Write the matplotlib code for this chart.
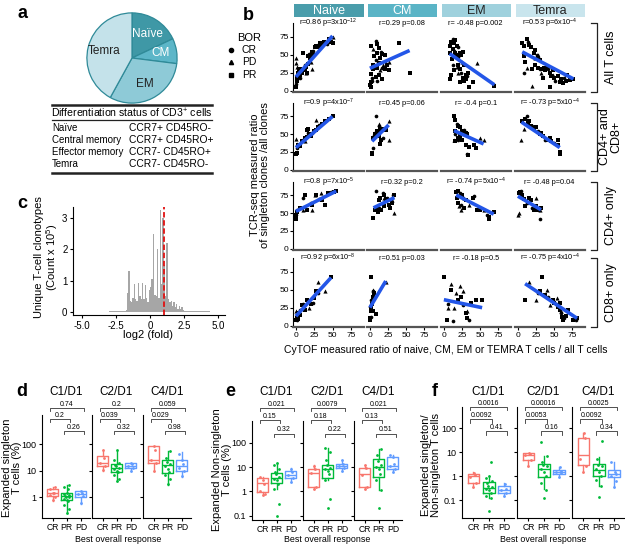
#!/usr/bin/env python3
"""Multi-panel figure: T-cell subsets, singleton clones and expanded clones by response."""

import matplotlib

matplotlib.use("Agg")
import matplotlib.pyplot as plt
import numpy as np
from matplotlib.lines import Line2D
from matplotlib.patches import Rectangle

plt.rcParams["font.family"] = ["Liberation Sans", "DejaVu Sans"]
plt.rcParams["mathtext.fontset"] = "custom"
plt.rcParams["mathtext.rm"] = "Liberation Sans"
plt.rcParams["mathtext.it"] = "Liberation Sans:italic"
plt.rcParams["axes.linewidth"] = 0.8

W, H = 625, 545

# ---------------- panel a ----------------
PIE_LABELS = ["Naïve", "CM", "EM", "Temra"]
PIE_SHARE = [18, 9, 31, 42]
PIE_COLORS = ["#3f98a6", "#5cb6c8", "#8ecad7", "#c4e2ea"]
PIE_TEXT = ["white", "white", "#222222", "#222222"]
TABLE_ROWS = ["Naïve", "Central memory", "Effector memory", "Temra"]
TABLE_MARKERS = ["CCR7+ CD45RO-", "CCR7+ CD45RO+", "CCR7- CD45RO+", "CCR7- CD45RO-"]

# ---------------- panel b ----------------
SUBSETS = ["Naive", "CM", "EM", "Temra"]
STRIP_COLORS = ["#4a9dab", "#5ab4c6", "#9fd1dd", "#c9e5ed"]
STRIP_TEXT = ["white", "white", "#222222", "#222222"]
ROW_LABELS = ["All T cells", "CD4+ and\nCD8+", "CD4+ only", "CD8+ only"]

ALL_NAIVE = [(0, 5, 's'), (0, 9, 'o'), (1, 13, 's'), (1, 16, 'o'), (2, 18, 's'), (2, 15, 's'), (3, 20, 'o'),
             (3, 25, 's'), (4, 28, 's'), (5, 17, 'o'), (5, 30, 's'), (6, 22, 's'), (7, 28, 'o'), (8, 25, 's'),
             (9, 29, 's'), (10, 52, 's'), (12, 30, 's'), (13, 35, 'o'), (14, 33, 's'), (15, 25, 's'),
             (16, 37, 's'), (17, 48, 's'), (18, 51, 'o'), (19, 45, 's'), (20, 50, 's'), (22, 53, 's'),
             (24, 55, 'o'), (25, 50, 's'), (26, 60, 's'), (28, 62, 's'), (30, 64, 'o'), (31, 60, 's'),
             (33, 66, 's'), (35, 63, 's'), (38, 67, 's'), (42, 65, 'o'), (45, 72, 's'), (48, 68, 's'),
             (50, 66, 's'), (0, 45, '^'), (0, 38, '^'), (1, 33, '^'), (3, 28, '^'), (14, 24, '^'),
             (20, 40, '^'), (22, 30, '^'), (50, 75, '^')]
ALL_CM = [(1, 5, 's'), (1, 12, 's'), (3, 17, 'o'), (2, 23, 's'), (5, 30, 's'), (1, 62, 's'), (8, 69, 'o'),
          (10, 65, 's'), (12, 59, 's'), (15, 53, 'o'), (17, 51, 's'), (10, 52, 's'), (21, 49, 's'),
          (8, 42, 'o'), (12, 39, 's'), (5, 35, 's'), (10, 32, 's'), (17, 31, 'o'), (21, 30, 's'),
          (24, 35, 's'), (26, 28, 's'), (3, 14, 'o'), (8, 19, 's'), (12, 21, 's'), (17, 16, 's'),
          (10, 14, 'o'), (0, 8, 's'), (14, 45, 's'), (40, 66, 's'), (55, 25, 's'), (6, 48, 's'),
          (18, 36, '^'), (22, 38, '^'), (26, 40, '^'), (4, 58, '^'), (14, 28, '^')]
ALL_EM = [(8, 62, 's'), (10, 68, 's'), (12, 72, 'o'), (14, 66, 's'), (16, 70, 's'), (18, 62, 's'),
          (20, 60, 'o'), (12, 58, 's'), (9, 52, 's'), (11, 44, 's'), (13, 36, 'o'), (8, 16, 's'),
          (10, 22, 's'), (14, 28, 's'), (16, 52, 's'), (18, 49, 's'), (20, 47, 'o'), (22, 52, 's'),
          (24, 50, 's'), (26, 53, 's'), (20, 35, 's'), (22, 30, 's'), (24, 25, 'o'), (26, 18, 's'),
          (28, 14, 's'), (30, 16, 's'), (30, 22, 's'), (32, 20, 'o'), (34, 24, 's'), (28, 35, 's'),
          (22, 12, 's'), (35, 5, 's'), (40, 12, 's'), (70, 7, 's'), (15, 55, '^'), (18, 33, '^'),
          (25, 40, '^'), (46, 38, '^'), (20, 24, '^')]
ALL_TEMRA = [(6, 66, 's'), (9, 62, 's'), (12, 72, 's'), (14, 68, 'o'), (16, 63, 's'), (18, 60, 's'),
             (8, 48, 's'), (10, 40, 's'), (8, 25, 'o'), (20, 30, 's'), (22, 52, 's'), (24, 56, 's'),
             (26, 50, 'o'), (28, 46, 's'), (30, 42, 's'), (24, 36, 's'), (28, 32, 's'), (30, 30, 'o'),
             (33, 30, 's'), (36, 32, 's'), (38, 28, 's'), (40, 33, 's'), (42, 30, 'o'), (44, 25, 's'),
             (46, 20, 's'), (48, 28, 's'), (50, 18, 's'), (52, 14, 'o'), (55, 20, 's'), (58, 12, 's'),
             (60, 16, 's'), (62, 10, 's'), (64, 18, 'o'), (66, 14, 's'), (68, 22, 's'), (72, 15, 's'),
             (77, 16, 's'), (45, 5, 's'), (35, 18, 's'), (24, 46, '^'), (28, 50, '^'), (12, 32, '^'),
             (20, 7, '^'), (32, 25, '^'), (48, 22, '^')]

BOTH_NAIVE = [(0, 22, 's'), (1, 23, 's'), (2, 30, 'o'), (3, 35, 's'), (5, 33, 's'), (8, 40, 's'),
              (10, 42, 'o'), (12, 44, 's'), (15, 46, 's'), (15, 56, 's'), (16, 52, 'o'), (17, 58, 's'),
              (18, 50, 's'), (20, 48, 's'), (22, 52, 'o'), (25, 54, 's'), (27, 56, 's'), (30, 60, 's'),
              (32, 63, 'o'), (35, 65, 's'), (40, 68, 's'), (45, 72, 's'), (50, 75, 's'), (0, 43, '^'),
              (2, 36, '^'), (27, 70, '^'), (12, 41, '^')]
BOTH_CM = [(3, 22, 's'), (3, 24, 's'), (4, 30, 'o'), (5, 45, 's'), (7, 50, 's'), (8, 75, 'o'), (10, 55, 's'),
           (11, 52, 's'), (12, 48, 's'), (13, 62, 'o'), (14, 58, 's'), (14, 36, 's'), (15, 42, 's'),
           (18, 44, 'o'), (20, 58, 's'), (22, 56, 's'), (6, 52, '^'), (26, 68, '^'), (26, 42, '^'),
           (12, 65, '^')]
BOTH_EM = [(14, 75, 's'), (16, 70, 's'), (18, 64, 'o'), (20, 62, 's'), (22, 60, 's'), (15, 55, 's'),
           (16, 50, 'o'), (20, 45, 's'), (22, 48, 's'), (25, 55, 's'), (28, 56, 'o'), (30, 52, 's'),
           (32, 50, 's'), (16, 40, 's'), (20, 42, 'o'), (25, 42, 's'), (30, 35, 's'), (35, 32, 's'),
           (32, 22, 'o'), (34, 20, 's'), (42, 35, 's'), (45, 30, 's'), (50, 45, '^'), (55, 42, '^'),
           (14, 42, '^')]
BOTH_TEMRA = [(6, 68, 's'), (10, 72, 's'), (12, 75, 'o'), (14, 66, 's'), (16, 68, 's'), (18, 62, 's'),
              (20, 62, 'o'), (22, 58, 's'), (25, 60, 's'), (28, 55, 'o'), (30, 50, 's'), (32, 52, 's'),
              (35, 48, 's'), (38, 42, 'o'), (40, 42, 's'), (44, 45, 's'), (46, 40, 's'), (50, 38, 'o'),
              (55, 42, 's'), (56, 35, 's'), (58, 25, 's'), (58, 22, 's'), (5, 42, '^'), (8, 58, '^'),
              (46, 42, '^')]

CD4_NAIVE = [(0, 42, 's'), (0, 48, 's'), (1, 55, 'o'), (2, 52, 's'), (5, 57, 's'), (10, 72, 'o'), (13, 75, 's'),
             (15, 55, 's'), (20, 65, 'o'), (22, 62, 's'), (28, 75, 's'), (32, 70, 'o'), (36, 68, 's'),
             (40, 61, 's'), (44, 78, 's'), (48, 80, 'o'), (52, 80, 's'), (55, 82, 's'), (0, 50, '^'),
             (10, 55, '^'), (22, 55, '^'), (26, 75, '^'), (34, 78, '^')]
CD4_CM = [(5, 43, 's'), (7, 55, 's'), (9, 82, 'o'), (10, 55, 's'), (11, 52, 's'), (12, 58, 'o'), (13, 68, 's'),
          (14, 72, 's'), (16, 55, 's'), (18, 78, 'o'), (19, 60, 's'), (20, 75, 's'), (22, 70, 's'),
          (24, 72, 'o'), (26, 62, 's'), (28, 58, 's'), (30, 65, 's'), (32, 76, 'o'), (34, 76, 's'),
          (10, 60, '^'), (20, 72, '^'), (30, 68, '^'), (34, 50, '^')]
CD4_EM = [(17, 80, 's'), (19, 82, 's'), (22, 78, 'o'), (18, 72, 's'), (25, 75, 's'), (20, 65, 's'),
          (24, 62, 'o'), (30, 68, 's'), (28, 58, 's'), (40, 72, 's'), (42, 74, 'o'), (46, 55, 's'),
          (50, 55, 's'), (60, 48, 'o'), (62, 45, 's'), (63, 42, 's'), (69, 52, 's'), (24, 55, '^'),
          (21, 60, '^'), (35, 62, '^'), (55, 55, '^'), (28, 72, '^')]
CD4_TEMRA = [(2, 78, 's'), (3, 80, 's'), (5, 82, 'o'), (6, 75, 's'), (8, 70, 's'), (10, 60, 's'), (12, 65, 'o'),
             (15, 72, 's'), (18, 68, 's'), (20, 58, 'o'), (22, 55, 's'), (25, 60, 's'), (28, 55, 's'),
             (30, 42, 'o'), (32, 58, 's'), (0, 48, '^'), (2, 50, '^'), (25, 72, '^'), (30, 55, '^')]

CD8_NAIVE = [(0, 8, 's'), (1, 10, 's'), (2, 8, 'o'), (3, 9, 's'), (4, 18, 's'), (5, 22, 'o'), (6, 15, 's'),
             (8, 28, 's'), (10, 30, 'o'), (12, 22, 's'), (15, 35, 's'), (20, 30, 's'), (24, 32, 'o'),
             (25, 38, 's'), (28, 48, 's'), (30, 45, 'o'), (48, 68, 's'), (0, 20, '^'), (2, 18, '^'),
             (18, 25, '^'), (30, 60, '^'), (40, 48, '^')]
CD8_CM = [(0, 8, 's'), (0, 10, 's'), (1, 12, 'o'), (1, 20, 's'), (2, 25, 's'), (2, 35, 'o'), (3, 30, 's'),
          (4, 40, 's'), (5, 48, 'o'), (6, 45, 's'), (8, 16, 's'), (2, 68, 's'), (5, 20, 's'), (0, 28, '^'),
          (4, 50, '^'), (22, 60, '^')]
CD8_EM = [(0, 68, 's'), (5, 8, 's'), (12, 6, 'o'), (20, 35, 's'), (24, 40, 's'), (26, 28, 'o'), (30, 18, 's'),
          (32, 10, 's'), (35, 8, 'o'), (38, 32, 's'), (44, 35, 's'), (53, 36, 's'), (10, 50, 's'),
          (6, 30, 'o'), (6, 25, '^'), (10, 58, '^'), (14, 25, '^'), (17, 45, '^'), (22, 55, '^'),
          (26, 48, '^'), (32, 20, '^')]
CD8_TEMRA = [(10, 36, 's'), (34, 68, 's'), (28, 45, 'o'), (31, 48, 's'), (38, 42, 's'), (42, 40, 'o'),
             (48, 36, 's'), (50, 32, 's'), (53, 30, 'o'), (55, 26, 's'), (58, 22, 's'), (60, 18, 'o'),
             (61, 12, 's'), (62, 8, 's'), (64, 10, 'o'), (66, 14, 's'), (70, 22, 's'), (76, 8, 's'),
             (80, 8, 'o'), (82, 10, 's'), (58, 32, 's'), (16, 60, '^'), (25, 35, '^'), (40, 50, '^'),
             (45, 28, '^'), (54, 38, '^'), (60, 20, '^')]

# fitted lines: (slope, intercept)
FIT_ALL = [(1.14, 19), (0.45, 31), (-0.70, 57), (-0.53, 57)]
FIT_BOTH = [(0.88, 31), (1.0, 37), (-0.46, 61.5), (-0.68, 70.5)]
FIT_CD4 = [(0.52, 52.5), (0.5, 55), (-0.52, 84.5), (-0.6, 74)]
FIT_CD8 = [(1.12, 13), (1.68, 25), (-0.21, 36), (-0.67, 65)]

STATS_ALL = [r"r=0.86 p=3x10$^{-12}$", "r=0.29 p=0.08", "r= -0.48 p=0.002", r"r=0.53 p=6x10$^{-4}$"]
STATS_BOTH = [r"r=0.9 p=4x10$^{-7}$", "r=0.45 p=0.06", "r= -0.4 p=0.1", r"r= -0.73 p=5x10$^{-4}$"]
STATS_CD4 = [r"r=0.8 p=7x10$^{-5}$", "r=0.32 p=0.2", r"r= -0.74 p=5x10$^{-4}$", "r= -0.48 p=0.04"]
STATS_CD8 = [r"r=0.92 p=6x10$^{-8}$", "r=0.51 p=0.03", "r= -0.18 p=0.5", r"r= -0.75 p=4x10$^{-4}$"]

# ---------------- panel c ----------------
HIST_START = -5.0
HIST_BIN = 0.1
HIST_COUNTS = [0.005, 0.005, 0.005, 0.005, 0.005, 0.005, 0.005, 0.005, 0.005, 0.005,
               0.005, 0.005, 0.005, 0.005, 0.005, 0.01, 0.01, 0.01, 0.01, 0.01,
               0.02, 0.02, 0.02, 0.02, 0.02, 0.02, 0.03, 0.02, 0.03, 0.03,
               0.03, 0.03, 0.05, 0.6, 1.3, 0.35, 0.3, 0.45, 0.9, 0.4,
               0.35, 0.92, 0.5, 0.4, 0.92, 0.4, 0.85, 0.45, 0.3, 0.7,
               0.8, 1.05, 2.5, 0.55, 0.5, 2.0, 0.45, 3.25, 0.9, 3.0,
               1.5, 0.5, 2.2, 0.4, 0.3, 0.35, 0.2, 0.3, 0.15, 0.25,
               0.1, 0.2, 0.1, 0.15, 0.05, 0.04, 0.03, 0.03, 0.03, 0.02,
               0.02, 0.02, 0.02, 0.02, 0.02, 0.02, 0.02, 0.02, 0.02, 0.02,
               0.02, 0.02, 0.02, 0.02, 0.01, 0.01, 0.01, 0.01, 0.01, 0.01]
FOLD_CUT = 1.0

# ---------------- panels d, e, f ----------------
TIMEPOINTS = ["C1/D1", "C2/D1", "C4/D1"]
RESPONSES = ["CR", "PR", "PD"]
RESP_COLORS = ["#F8766D", "#00BA38", "#619CFF"]

# box stats per timepoint, per response: (whislo, q1, median, q3, whishi)
SINGLE_BOX = [[(0.75, 1.1, 1.4, 2.0, 2.5), (0.25, 0.8, 1.1, 1.4, 3.0), (0.55, 1.05, 1.35, 1.7, 1.8)],
              [(10, 15, 20, 35, 60), (4, 9, 13, 18, 55), (10, 13, 15, 20, 20)],
              [(10, 20, 25, 85, 90), (3, 8, 16, 25, 55), (6, 10, 15, 25, 50)]]
SINGLE_PTS = [[[0.8, 1.0, 1.2, 1.4, 1.5, 2.0, 2.4],
               [0.25, 0.35, 0.5, 0.7, 0.8, 0.9, 1.0, 1.05, 1.1, 1.2, 1.3, 1.5, 2.0, 2.5, 3.0],
               [0.6, 1.1, 1.3, 1.5, 1.7]],
              [[11, 15, 20, 30, 60], [4, 5, 7, 9, 10, 12, 13, 15, 17, 20, 25, 60], [10, 13, 15, 18, 20]],
              [[10, 20, 25, 60, 85], [3.2, 5, 7, 9, 12, 15, 18, 22, 30, 55], [6.5, 10, 13, 18, 25, 45]]]
SINGLE_P = [["0.74", "0.2", "0.26"], ["0.2", "0.039", "0.32"], ["0.059", "0.029", "0.98"]]

NONSINGLE_BOX = [[(0.7, 0.9, 2.2, 3.5, 4.0), (1.2, 2.2, 3.5, 5.5, 15), (2.5, 3.5, 4.5, 7.0, 9.0)],
                 [(1.2, 1.5, 5.5, 8.0, 12), (3.0, 3.5, 8.0, 12, 60), (7, 9, 11, 14, 20)],
                 [(1.3, 1.5, 5.0, 9.0, 12), (1.1, 4.0, 10, 22, 55), (6, 8, 11, 25, 30)]]
NONSINGLE_PTS = [[[0.7, 0.8, 1.0, 2.0, 3.0, 3.8],
                  [0.1, 0.3, 1.2, 2.0, 2.8, 3.3, 4.0, 5.0, 6.0, 8.0, 12, 15],
                  [2.5, 3.5, 4.5, 6.0, 8.5]],
                 [[1.2, 1.5, 5.5, 8.0, 11], [0.2, 0.5, 3, 5, 7, 8, 9, 12, 20, 40, 60], [7, 9, 11, 13, 20]],
                 [[1.3, 1.5, 4.5, 9, 12], [0.2, 1.1, 3, 5, 8, 10, 12, 18, 30, 55], [6, 8, 11, 14, 25, 30]]]
NONSINGLE_P = [["0.021", "0.15", "0.32"], ["0.0079", "0.18", "0.22"], ["0.021", "0.13", "0.51"]]

RATIO_BOX = [[(0.35, 0.5, 1.0, 1.2, 1.4), (0.12, 0.2, 0.32, 0.55, 1.0), (0.15, 0.2, 0.27, 0.38, 0.5)],
             [(2.5, 4.5, 7.5, 9.0, 9.5), (0.3, 0.9, 2.0, 3.2, 7.0), (0.9, 1.2, 1.45, 1.7, 2.3)],
             [(1.5, 2.9, 7.5, 40, 60), (0.4, 1.0, 1.8, 3.2, 6.0), (0.35, 0.9, 1.2, 1.7, 4.0)]]
RATIO_PTS = [[[0.35, 0.5, 0.9, 1.1, 1.3],
              [0.035, 0.12, 0.15, 0.2, 0.25, 0.3, 0.35, 0.4, 0.5, 0.6, 0.8, 1.0, 3.8],
              [0.15, 0.2, 0.25, 0.3, 0.45]],
             [[2.5, 4.5, 7.5, 8.5, 9.0], [0.12, 0.27, 0.5, 1.0, 1.5, 2.0, 2.5, 3.0, 4.0, 7.0, 25],
              [0.9, 1.3, 1.45, 1.6, 2.3]],
             [[1.5, 2.5, 5.0, 40, 60], [0.14, 0.4, 0.7, 1.0, 1.5, 2.0, 2.5, 3.0, 5.0, 30],
              [0.35, 0.6, 1.0, 1.2, 1.5, 4.0]]]
RATIO_P = [["0.0016", "0.0092", "0.41"], ["0.00016", "0.0053", "0.16"], ["0.0025", "0.0092", "0.34"]]


fig = plt.figure(figsize=(W / 100, H / 100), dpi=100)


def px_axes(l, t, r, b):
    return fig.add_axes([l / W, 1 - b / H, (r - l) / W, (b - t) / H])


# overlay in pixel coordinates for free text and rules
ov = fig.add_axes([0, 0, 1, 1], zorder=10)
ov.set_xlim(0, W)
ov.set_ylim(H, 0)
ov.axis("off")

for lab, (x, y) in zip("abcdef", [(22, 14), (248, 15), (22, 203), (22, 391), (230, 391), (435, 391)]):
    ov.text(x, y, lab, fontsize=13, fontweight="bold", ha="center", va="center")

# ---- a: pie + table ----
pie_ax = px_axes(86, 12, 178, 104)
wedges, texts = pie_ax.pie(PIE_SHARE, labels=PIE_LABELS, colors=PIE_COLORS, startangle=90,
                           counterclock=False, labeldistance=0.64,
                           wedgeprops=dict(edgecolor="#2f8a98", linewidth=0.9),
                           textprops=dict(fontsize=8.5))
for t, c in zip(texts, PIE_TEXT):
    t.set_color(c)
    t.set_ha("center")
    t.set_va("center")
pie_ax.set_xlim(-1.02, 1.02)
pie_ax.set_ylim(-1.02, 1.02)
pie_ax.set_aspect("equal")

for y, lw in [(105, 1.8), (120, 0.9), (173, 1.8)]:
    ov.add_line(Line2D([52, 212], [y, y], color="#222222", lw=lw))
ov.text(132, 113, "Differentiation status of CD3$^{+}$ cells", fontsize=7.6, ha="center", va="center")
for i, (name, mark) in enumerate(zip(TABLE_ROWS, TABLE_MARKERS)):
    yy = 128 + i * 12
    ov.text(52, yy, name, fontsize=7, ha="left", va="center")
    ov.text(129, yy, mark, fontsize=7.4, ha="left", va="center")

# ---- b: scatter grid ----
cols_px = [(293, 364), (367, 437), (441, 511), (515, 585)]
rows_px = [(23, 92), (103, 171), (182, 250), (258, 327)]
grid_pts = [[ALL_NAIVE, ALL_CM, ALL_EM, ALL_TEMRA],
            [BOTH_NAIVE, BOTH_CM, BOTH_EM, BOTH_TEMRA],
            [CD4_NAIVE, CD4_CM, CD4_EM, CD4_TEMRA],
            [CD8_NAIVE, CD8_CM, CD8_EM, CD8_TEMRA]]
grid_fit = [FIT_ALL, FIT_BOTH, FIT_CD4, FIT_CD8]
grid_txt = [STATS_ALL, STATS_BOTH, STATS_CD4, STATS_CD8]

for j, (name, col, tc) in enumerate(zip(SUBSETS, STRIP_COLORS, STRIP_TEXT)):
    l, r = cols_px[j]
    ov.add_patch(Rectangle((l + 1, 4), r - l - 1, 13, facecolor=col, edgecolor="none"))
    ov.text((l + r) / 2 + 0.5, 10.5, name, fontsize=9, color=tc, ha="center", va="center")

for i in range(4):
    t, b = rows_px[i]
    for j in range(4):
        l, r = cols_px[j]
        ax = px_axes(l, t, r, b)
        pts = grid_pts[i][j]
        for m, s in [("o", 7), ("s", 6), ("^", 9)]:
            xs = [p[0] for p in pts if p[2] == m]
            ys = [p[1] for p in pts if p[2] == m]
            ax.scatter(xs, ys, marker=m, s=s, color="black", linewidths=0, zorder=2)
        slope, icpt = grid_fit[i][j]
        xr = np.array([min(p[0] for p in pts), max(p[0] for p in pts)])
        ax.plot(xr, icpt + slope * xr, color="#2356e8", lw=2.6, solid_capstyle="butt", zorder=3)
        ax.text(44, 93, grid_txt[i][j], fontsize=5.3, ha="center", va="center", clip_on=False)
        ax.set_xlim(-4, 93)
        ax.set_ylim(-2, 94)
        for side in ["top", "right"]:
            ax.spines[side].set_visible(False)
        ax.spines["bottom"].set_color("#555555")
        ax.spines["bottom"].set_linewidth(1.6)
        if j == 0:
            ax.set_yticks([0, 25, 50, 75])
            ax.tick_params(axis="y", labelsize=6, length=2, pad=1)
        else:
            ax.spines["left"].set_visible(False)
            ax.set_yticks([])
        if i == 3:
            ax.set_xticks([0, 25, 50, 75])
            ax.tick_params(axis="x", labelsize=6, length=2, pad=1.5)
        else:
            ax.set_xticks([])
    ov.add_line(Line2D([591, 597, 597, 591], [t, t, b, b], color="#222222", lw=0.9))
    ov.text(611, (t + b) / 2, ROW_LABELS[i], fontsize=9, rotation=90, ha="center", va="center",
            multialignment="center", linespacing=0.95)

ov.text(237, 38, "BOR", fontsize=8, ha="left", va="center")
for k, (m, lab) in enumerate([("o", "CR"), ("^", "PD"), ("s", "PR")]):
    yy = 50 + k * 12.3
    ov.plot([231], [yy], marker=m, color="black", markersize=3, linestyle="none")
    ov.text(242, yy, lab, fontsize=7.5, ha="left", va="center")

ov.text(260, 175, "TCR-seq measured ratio\nof singleton clones /all clones", fontsize=8, rotation=90,
        ha="center", va="center", multialignment="center", linespacing=1.05)
ov.text(446, 350, "CyTOF measured ratio of naive, CM, EM or TEMRA T cells / all T cells", fontsize=7.5,
        ha="center", va="center")

# ---- c: histogram ----
cax = px_axes(73, 207, 225, 315)
edges = HIST_START + HIST_BIN * np.arange(len(HIST_COUNTS))
cax.bar(edges, HIST_COUNTS, width=HIST_BIN, align="edge", color="#a6a6a6", edgecolor="none")
cax.axvline(FOLD_CUT, color="#e01010", lw=1.3, linestyle=(0, (3, 1.5)))
cax.set_xlim(-5.66, 5.5)
cax.set_ylim(-0.1, 3.35)
cax.set_xticks([-5, -2.5, 0, 2.5, 5])
cax.set_xticklabels(["-5.0", "-2.5", "0", "2.5", "5.0"])
cax.set_yticks([0, 1, 2, 3])
cax.tick_params(labelsize=7, length=2.5, pad=1.5)
for side in ["top", "right"]:
    cax.spines[side].set_visible(False)
ov.text(47, 257, "Unique T-cell clonotypes\n(Count x 10$^5$)", fontsize=8, rotation=90,
        ha="center", va="center", multialignment="center", linespacing=1.1)
ov.text(148, 335, "log2 (fold)", fontsize=8, ha="center", va="center")


# ---- d, e, f: box plots ----
def box_panel(spines_px, top, bottom, width, box, pts, pvals, ylim, yticks, ylabels,
              brk_rows, title_y):
    for i, l in enumerate(spines_px):
        ax = px_axes(l, top, l + width, bottom)
        ax.set_yscale("log")
        for j in range(3):
            lo, q1, med, q3, hi = box[i][j]
            c = RESP_COLORS[j]
            ax.bxp([dict(whislo=lo, q1=q1, med=med, q3=q3, whishi=hi, fliers=[])], positions=[j + 1],
                   widths=0.78, showcaps=False, showfliers=False,
                   boxprops=dict(color=c, lw=1.0), whiskerprops=dict(color=c, lw=1.0),
                   medianprops=dict(color=c, lw=1.0))
            ys = np.array(pts[i][j])
            jit = 0.2 * np.sin(np.arange(len(ys)) * 2.3)
            ax.scatter(j + 1 + jit, ys, s=4, color=c, linewidths=0, zorder=3)
        ax.set_xlim(0.25, 3.65)
        ax.set_ylim(*ylim)
        ax.set_xticks([1, 2, 3])
        ax.set_xticklabels(RESPONSES)
        ax.set_yticks(yticks)
        ax.yaxis.set_minor_locator(matplotlib.ticker.NullLocator())
        ax.set_yticklabels(ylabels if i == 0 else [])
        ax.tick_params(axis="x", labelsize=6.2, length=2.5, pad=1)
        ax.tick_params(axis="y", labelsize=6.5, length=2.5, pad=1.5)
        for side in ["top", "right"]:
            ax.spines[side].set_visible(False)
        ax.text(0.5, title_y, TIMEPOINTS[i], transform=ax.transAxes, fontsize=8.5, ha="center",
                va="center", clip_on=False)
        tr = ax.get_xaxis_transform()
        tick = 0.03
        for (x0, x1), yb, p in zip([(1, 3), (1, 2), (2, 3)], brk_rows, pvals[i]):
            ax.plot([x0 - 0.2, x0 - 0.2, x1 + 0.2, x1 + 0.2], [yb - tick, yb, yb, yb - tick],
                    transform=tr, color="#333333", lw=0.6, clip_on=False)
            ax.text((x0 + x1) / 2, yb + 0.004, p, transform=tr, fontsize=5, ha="center",
                    va="bottom", clip_on=False)


box_panel([42, 92, 143], 415, 518, 48, SINGLE_BOX, SINGLE_PTS, SINGLE_P, (0.166, 1290),
          [1, 10, 100], ["1", "10", "100"], [1.068, 0.962, 0.845], 1.223)
box_panel([252, 303, 354], 421, 520, 48, NONSINGLE_BOX, NONSINGLE_PTS, NONSINGLE_P, (0.066, 790),
          [0.1, 1, 10, 100], ["0.1", "1", "10", "100"], [1.13, 1.01, 0.87], 1.29)
box_panel([462, 517, 572], 407, 518, 52, RATIO_BOX, RATIO_PTS, RATIO_P, (0.0178, 750),
          [0.1, 1, 10, 100], ["0.1", "1", "10", "100"], [1.0, 0.89, 0.78], 1.135)

ov.text(12, 468, "Expanded singleton\nT cells (%)", fontsize=8, rotation=90, ha="center", va="center",
        multialignment="center", linespacing=1.0)
ov.text(222, 470, "Expanded Non-singleton\nT cells (%)", fontsize=8, rotation=90, ha="center",
        va="center", multialignment="center", linespacing=1.0)
ov.text(431, 465, "Expanded singleton/\nNon-singleton T cells", fontsize=8, rotation=90, ha="center",
        va="center", multialignment="center", linespacing=1.0)
for cx in [118, 327, 543]:
    ov.text(cx, 539.5, "Best overall response", fontsize=6.4, ha="center", va="center")

fig.savefig("out.png", dpi=100)
